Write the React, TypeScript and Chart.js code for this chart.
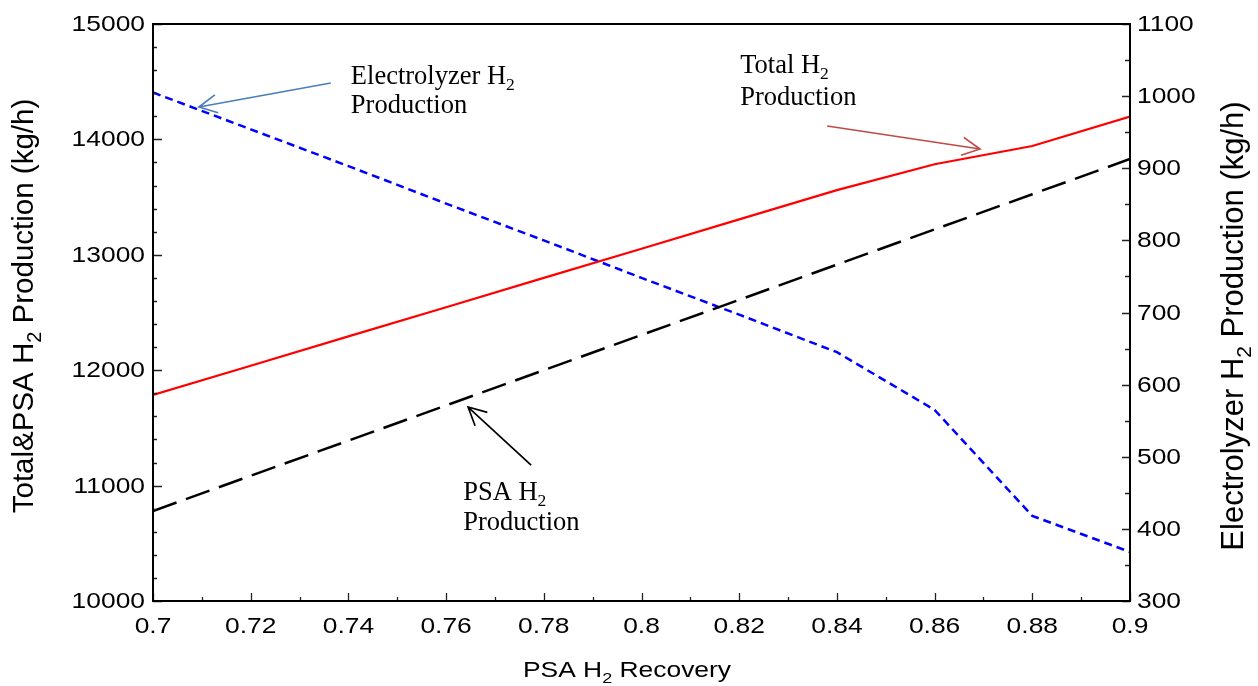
import { useEffect, useRef } from "react";
import { Chart, registerables } from "chart.js";

Chart.register(...registerables);

// ---------- data ----------
const recovery = [0.7, 0.72, 0.74, 0.76, 0.78, 0.8, 0.82, 0.84, 0.86, 0.88, 0.9];
const totalH2 = [11785, 12039, 12293, 12546, 12800, 13053, 13307, 13560, 13785, 13943, 14198];
const psaH2 = [10780, 11085, 11390, 11695, 12000, 12305, 12610, 12915, 13220, 13525, 13830];
const electrolyzerH2 = [1005, 954, 903, 851, 800, 748, 697, 645, 565, 418, 368];

const xTickValues = [0.7, 0.72, 0.74, 0.76, 0.78, 0.8, 0.82, 0.84, 0.86, 0.88, 0.9];
const xTickLabels = ["0.7", "0.72", "0.74", "0.76", "0.78", "0.8", "0.82", "0.84", "0.86", "0.88", "0.9"];
const xMinorTicks = [0.71, 0.73, 0.75, 0.77, 0.79, 0.81, 0.83, 0.85, 0.87, 0.89];
const leftTickValues = [10000, 11000, 12000, 13000, 14000, 15000];
const leftTickLabels = ["10000", "11000", "12000", "13000", "14000", "15000"];
const leftMinorStep = 200;
const rightTickValues = [300, 400, 500, 600, 700, 800, 900, 1000, 1100];
const rightTickLabels = ["300", "400", "500", "600", "700", "800", "900", "1000", "1100"];
const rightMinorStep = 50;

type Part = { t: string; sub?: boolean };

// annotations anchored in data coordinates (x, left-axis value)
const annotationTexts: { lines: Part[][]; x: number; y: number[] }[] = [
  { lines: [[{ t: "Electrolyzer H" }, { t: "2", sub: true }], [{ t: "Production" }]], x: 0.7405, y: [14480, 14229] },
  { lines: [[{ t: "Total H" }, { t: "2", sub: true }], [{ t: "Production" }]], x: 0.8202, y: [14575, 14298] },
  { lines: [[{ t: "PSA H" }, { t: "2", sub: true }], [{ t: "Production" }]], x: 0.7635, y: [10875, 10615] },
];
const annotationArrows = [
  { from: [0.7364, 14489], to: [0.7094, 14281], color: "#4a7ebb" },
  { from: [0.838, 14116], to: [0.8693, 13917], color: "#be4b48" },
  { from: [0.7774, 11178], to: [0.7645, 11681], color: "#000000" },
];

const SANS = "Arial, 'Liberation Sans', sans-serif";
const SERIF = "'Times New Roman', 'Liberation Serif', serif";
const SX = 1.2;

function drawRich(
  ctx: CanvasRenderingContext2D,
  parts: Part[],
  x: number,
  y: number,
  o: { size: number; subSize: number; subDy: number; family: string; align: "left" | "center" | "right"; sx?: number; rotate?: number; color?: string }
) {
  ctx.save();
  ctx.translate(x, y);
  ctx.scale(o.sx ?? 1, 1);
  if (o.rotate) ctx.rotate(o.rotate);
  let w = 0;
  const widths = parts.map((p) => {
    ctx.font = `${p.sub ? o.subSize : o.size}px ${o.family}`;
    const m = ctx.measureText(p.t).width;
    w += m;
    return m;
  });
  let cx = o.align === "center" ? -w / 2 : o.align === "right" ? -w : 0;
  ctx.fillStyle = o.color ?? "#000";
  ctx.textBaseline = "alphabetic";
  ctx.textAlign = "left";
  parts.forEach((p, i) => {
    ctx.font = `${p.sub ? o.subSize : o.size}px ${o.family}`;
    ctx.fillText(p.t, cx, p.sub ? o.subDy : 0);
    cx += widths[i];
  });
  ctx.restore();
}

function drawArrow(ctx: CanvasRenderingContext2D, x1: number, y1: number, x2: number, y2: number, color: string) {
  ctx.save();
  ctx.strokeStyle = color;
  ctx.lineWidth = 1.7;
  ctx.beginPath();
  ctx.moveTo(x1, y1);
  ctx.lineTo(x2, y2);
  const a = Math.atan2(y1 - y2, x1 - x2);
  const L = 20;
  const h = 0.47;
  ctx.moveTo(x2 + L * Math.cos(a + h), y2 + L * Math.sin(a + h));
  ctx.lineTo(x2, y2);
  ctx.lineTo(x2 + L * Math.cos(a - h), y2 + L * Math.sin(a - h));
  ctx.stroke();
  ctx.restore();
}

const framePlugin = {
  id: "frameAndText",
  afterDatasetsDraw(chart: any) {
    const ctx: CanvasRenderingContext2D = chart.ctx;
    const { left, right, top, bottom } = chart.chartArea;
    const xs = chart.scales.x;
    const yl = chart.scales.y;
    const yr = chart.scales.y1;

    ctx.save();
    // ticks
    ctx.strokeStyle = "#222";
    ctx.lineWidth = 1.3;
    ctx.beginPath();
    xTickValues.forEach((v) => {
      const px = Math.round(xs.getPixelForValue(v)) + 0.5;
      ctx.moveTo(px, bottom);
      ctx.lineTo(px, bottom - 8);
    });
    xMinorTicks.forEach((v) => {
      const px = Math.round(xs.getPixelForValue(v)) + 0.5;
      ctx.moveTo(px, bottom);
      ctx.lineTo(px, bottom - 4);
    });
    for (let v = leftTickValues[0]; v <= leftTickValues[leftTickValues.length - 1]; v += leftMinorStep) {
      const py = Math.round(yl.getPixelForValue(v)) + 0.5;
      const major = leftTickValues.includes(v);
      ctx.moveTo(left, py);
      ctx.lineTo(left + (major ? 9 : 4), py);
    }
    for (let v = rightTickValues[0]; v <= rightTickValues[rightTickValues.length - 1]; v += rightMinorStep) {
      const py = Math.round(yr.getPixelForValue(v)) + 0.5;
      const major = rightTickValues.includes(v);
      ctx.moveTo(right, py);
      ctx.lineTo(right - (major ? 8 : 5), py);
    }
    ctx.stroke();

    // frame
    ctx.strokeStyle = "#000";
    ctx.lineWidth = 2;
    ctx.strokeRect(left, top, right - left, bottom - top);

    // tick labels
    const tickOpts = { size: 22, subSize: 15, subDy: 6, family: SANS, sx: SX };
    xTickValues.forEach((v, i) => {
      drawRich(ctx, [{ t: xTickLabels[i] }], xs.getPixelForValue(v), bottom + 32, { ...tickOpts, align: "center" });
    });
    leftTickValues.forEach((v, i) => {
      drawRich(ctx, [{ t: leftTickLabels[i] }], left - 8, yl.getPixelForValue(v) + 7, { ...tickOpts, align: "right" });
    });
    rightTickValues.forEach((v, i) => {
      drawRich(ctx, [{ t: rightTickLabels[i] }], right + 7, yr.getPixelForValue(v) + 7, { ...tickOpts, align: "left" });
    });

    // axis titles
    drawRich(ctx, [{ t: "PSA H" }, { t: "2", sub: true }, { t: " Recovery" }], 627, bottom + 76, { ...tickOpts, align: "center" });
    const vOpts = { size: 29.5, subSize: 20, subDy: 8, family: SANS, sx: 1, align: "center" as const, rotate: -Math.PI / 2 };
    drawRich(ctx, [{ t: "Total&PSA H" }, { t: "2", sub: true }, { t: " Production (kg/h)" }], 33, 306, vOpts);
    drawRich(ctx, [{ t: "Electrolyzer H" }, { t: "2", sub: true }, { t: " Production (kg/h)" }], 1243, 326, {
      ...vOpts,
      size: 31,
      subSize: 21,
    });

    // annotations
    annotationTexts.forEach((a) => {
      a.lines.forEach((ln, i) => {
        drawRich(ctx, ln, xs.getPixelForValue(a.x), yl.getPixelForValue(a.y[i]), {
          size: 26.5,
          subSize: 17.5,
          subDy: 6,
          family: SERIF,
          align: "left",
        });
      });
    });
    annotationArrows.forEach((a) => {
      drawArrow(
        ctx,
        xs.getPixelForValue(a.from[0]),
        yl.getPixelForValue(a.from[1]),
        xs.getPixelForValue(a.to[0]),
        yl.getPixelForValue(a.to[1]),
        a.color
      );
    });
    ctx.restore();
  },
};

export default function App() {
  const ref = useRef<HTMLCanvasElement | null>(null);
  useEffect(() => {
    if (!ref.current) return;
    const pts = (ys: number[]) => recovery.map((x, i) => ({ x, y: ys[i] }));
    const chart = new Chart(ref.current, {
      type: "line",
      data: {
        datasets: [
          {
            label: "Total H2 Production",
            data: pts(totalH2),
            yAxisID: "y",
            borderColor: "#ff0000",
            borderWidth: 2.2,
            pointRadius: 0,
            tension: 0,
          },
          {
            label: "PSA H2 Production",
            data: pts(psaH2),
            yAxisID: "y",
            borderColor: "#000000",
            borderWidth: 2.5,
            borderDash: [25, 10],
            pointRadius: 0,
            tension: 0,
          },
          {
            label: "Electrolyzer H2 Production",
            data: pts(electrolyzerH2),
            yAxisID: "y1",
            borderColor: "#0000ff",
            borderWidth: 2.5,
            borderDash: [8, 5],
            pointRadius: 0,
            tension: 0,
          },
        ],
      },
      options: {
        animation: false,
        responsive: false,
        layout: { padding: { left: 153, right: 128, top: 24, bottom: 85 } },
        plugins: { legend: { display: false }, tooltip: { enabled: false }, title: { display: false } },
        scales: {
          x: { type: "linear", min: 0.7, max: 0.9, display: false },
          y: { type: "linear", position: "left", min: 10000, max: 15000, display: false },
          y1: { type: "linear", position: "right", min: 300, max: 1100, display: false },
        },
      },
      plugins: [framePlugin],
    });
    return () => chart.destroy();
  }, []);
  return (
    <div style={{ position: "absolute", left: 0, top: 0, width: 1258, height: 686, background: "#fff" }}>
      <canvas ref={ref} width={1258} height={686} style={{ display: "block" }} />
    </div>
  );
}
